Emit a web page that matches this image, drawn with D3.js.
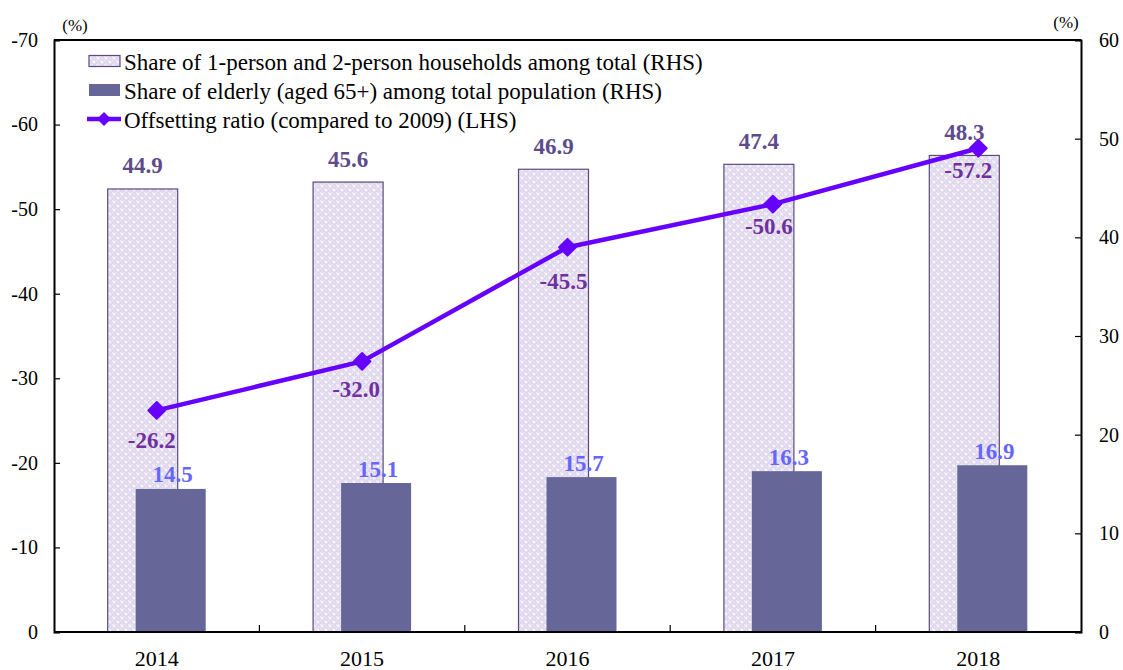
<!DOCTYPE html>
<html>
<head>
<meta charset="utf-8">
<script src="https://cdn.jsdelivr.net/npm/d3@7/dist/d3.min.js"></script>
<style>
  html, body { margin: 0; padding: 0; background: #fff; }
  svg { display: block; font-family: "Liberation Serif", "Times New Roman", serif; }
</style>
</head>
<body>
<svg id="chart" width="1123" height="670"></svg>
<script>
// ---- data ----
const years = ["2014", "2015", "2016", "2017", "2018"];
const smallHouseholdShare = [44.9, 45.6, 46.9, 47.4, 48.3];   // RHS, %
const elderlyShare = [14.5, 15.1, 15.7, 16.3, 16.9];          // RHS, %
const offsettingRatio = [-26.2, -32.0, -45.5, -50.6, -57.2];  // LHS, %
const leftTicks = [0, -10, -20, -30, -40, -50, -60, -70];
const rightTicks = [0, 10, 20, 30, 40, 50, 60];
const legendLabels = [
  "Share of 1-person and 2-person households among total (RHS)",
  "Share of elderly (aged 65+) among total population (RHS)",
  "Offsetting ratio (compared to 2009) (LHS)"
];

// ---- layout ----
const plot = { left: 54, right: 1081, top: 40, bottom: 632 };
const svg = d3.select("#chart");

const x = d3.scaleBand().domain(years).range([plot.left, plot.right]).padding(0);
const yL = d3.scaleLinear().domain([0, -70]).range([plot.bottom, plot.top]);
const yR = d3.scaleLinear().domain([0, 60]).range([plot.bottom, plot.top]);

const barW = 70;
const barShift = 14;
const lineColor = "#6600FF";
const darkBar = "#666699";

// dotted lavender fill for the household bars
const defs = svg.append("defs");
const pat = defs.append("pattern")
  .attr("id", "dots").attr("patternUnits", "userSpaceOnUse")
  .attr("width", 8).attr("height", 8);
pat.append("rect").attr("width", 8).attr("height", 8).attr("fill", "#E0D9EE");
[[2, 2], [6, 6]].forEach(([cx, cy]) => {
  pat.append("rect").attr("x", cx - 1.5).attr("y", cy - 0.5).attr("width", 3).attr("height", 1).attr("fill", "#fff");
  pat.append("rect").attr("x", cx - 0.5).attr("y", cy - 1.5).attr("width", 1).attr("height", 3).attr("fill", "#fff");
});
[[0, 0], [4, 0], [0, 4], [4, 4], [2, 6], [6, 2]].forEach(([px, py]) => {
  pat.append("rect").attr("x", px).attr("y", py).attr("width", 1).attr("height", 1).attr("fill", "#F2EEF8");
});

const cx = d => x(d) + x.bandwidth() / 2;

// household share bars (behind)
svg.append("g").selectAll("rect")
  .data(years)
  .join("rect")
  .attr("x", (d) => cx(d) - barShift - barW / 2)
  .attr("y", (d, i) => yR(smallHouseholdShare[i]))
  .attr("width", barW)
  .attr("height", (d, i) => yR(0) - yR(smallHouseholdShare[i]))
  .attr("fill", "url(#dots)")
  .attr("stroke", "#5A4A7E")
  .attr("stroke-width", 1.2);

// elderly share bars (front)
svg.append("g").selectAll("rect")
  .data(years)
  .join("rect")
  .attr("x", (d) => cx(d) + barShift - barW / 2)
  .attr("y", (d, i) => yR(elderlyShare[i]))
  .attr("width", barW)
  .attr("height", (d, i) => yR(0) - yR(elderlyShare[i]))
  .attr("fill", darkBar);

// offsetting ratio line
const line = d3.line().x((d, i) => cx(years[i])).y(d => yL(d));
svg.append("path")
  .datum(offsettingRatio)
  .attr("d", line)
  .attr("fill", "none")
  .attr("stroke", lineColor)
  .attr("stroke-width", 4.5)
  .attr("stroke-linejoin", "round");

const diamond = d3.symbol(d3.symbolSquare, 140);
svg.append("g").selectAll("path")
  .data(offsettingRatio)
  .join("path")
  .attr("d", diamond)
  .attr("transform", (d, i) => `translate(${cx(years[i])},${yL(d)}) rotate(45)`)
  .attr("fill", lineColor)
  .attr("stroke", lineColor)
  .attr("stroke-width", 2)
  .attr("stroke-linejoin", "round");

// ---- value labels ----
const labels = svg.append("g")
  .attr("font-size", 23)
  .attr("font-weight", "bold")
  .attr("text-anchor", "middle")
  .attr("dominant-baseline", "central");

labels.selectAll(".lh")
  .data(smallHouseholdShare)
  .join("text")
  .attr("x", (d, i) => cx(years[i]) - barShift)
  .attr("y", d => yR(d) - 23)
  .attr("fill", "#5E4B8B")
  .text(d => d.toFixed(1));

labels.selectAll(".le")
  .data(elderlyShare)
  .join("text")
  .attr("x", (d, i) => cx(years[i]) + barShift + 2)
  .attr("y", d => yR(d) - 14)
  .attr("fill", "#6666FF")
  .text(d => d.toFixed(1));

const lineLabelDy = [30, 28, 34, 22, 22];
const lineLabelDx = [-5, -6, -4, -4, -10];
labels.selectAll(".lr")
  .data(offsettingRatio)
  .join("text")
  .attr("x", (d, i) => cx(years[i]) + lineLabelDx[i])
  .attr("y", (d, i) => yL(d) + lineLabelDy[i])
  .attr("fill", "#7030A0")
  .text(d => d.toFixed(1));

// ---- axes ----
const plainNum = d => String(d);
const gL = svg.append("g")
  .attr("transform", `translate(${plot.left},0)`)
  .call(d3.axisLeft(yL).tickValues(leftTicks).tickSize(-6).tickPadding(16).tickFormat(plainNum));
const gR = svg.append("g")
  .attr("transform", `translate(${plot.right},0)`)
  .call(d3.axisRight(yR).tickValues(rightTicks).tickSize(-6).tickPadding(18).tickFormat(plainNum));
const gB = svg.append("g")
  .attr("transform", `translate(0,${plot.bottom})`)
  .call(d3.axisBottom(x).tickSize(0).tickPadding(18));

[gL, gR, gB].forEach(g => {
  g.select(".domain").attr("stroke", "#000").attr("stroke-width", 2);
  g.selectAll(".tick line").attr("stroke", "#000").attr("stroke-width", 1.2);
  g.selectAll(".tick text")
    .attr("font-family", "Liberation Serif, serif")
    .attr("font-size", 20)
    .attr("fill", "#000");
});
gB.selectAll(".tick text").attr("font-size", 22);
gB.select(".domain").attr("d", `M${plot.left},0H${plot.right}`);

// category separators on the bottom axis
svg.append("g").selectAll("line")
  .data(years.slice(1))
  .join("line")
  .attr("x1", d => x(d)).attr("x2", d => x(d))
  .attr("y1", plot.bottom).attr("y2", plot.bottom - 7)
  .attr("stroke", "#000").attr("stroke-width", 1.2);

// top frame
svg.append("line")
  .attr("x1", plot.left).attr("x2", plot.right)
  .attr("y1", plot.top).attr("y2", plot.top)
  .attr("stroke", "#000").attr("stroke-width", 2);

// unit labels
svg.append("text").attr("x", 75).attr("y", 25).attr("text-anchor", "middle")
  .attr("dominant-baseline", "central").attr("font-size", 17).text("(%)");
svg.append("text").attr("x", 1066).attr("y", 22).attr("text-anchor", "middle")
  .attr("dominant-baseline", "central").attr("font-size", 17).text("(%)");

// ---- legend ----
const legend = svg.append("g").attr("font-size", 23);
const rowY = [61, 90, 119];
legend.append("rect").attr("x", 89).attr("y", rowY[0] - 5.5).attr("width", 31).attr("height", 11)
  .attr("fill", "url(#dots)").attr("stroke", "#5A4A7E").attr("stroke-width", 1.2);
legend.append("rect").attr("x", 89).attr("y", rowY[1] - 6).attr("width", 31).attr("height", 12)
  .attr("fill", darkBar);
legend.append("line").attr("x1", 87).attr("x2", 121).attr("y1", rowY[2]).attr("y2", rowY[2])
  .attr("stroke", lineColor).attr("stroke-width", 4.5);
legend.append("path").attr("d", d3.symbol(d3.symbolSquare, 100))
  .attr("transform", `translate(104,${rowY[2]}) rotate(45)`).attr("fill", lineColor);
legend.selectAll("text")
  .data(legendLabels)
  .join("text")
  .attr("x", 124)
  .attr("y", (d, i) => rowY[i] + 1)
  .attr("dominant-baseline", "central")
  .attr("fill", "#000")
  .text(d => d);
</script>
</body>
</html>
